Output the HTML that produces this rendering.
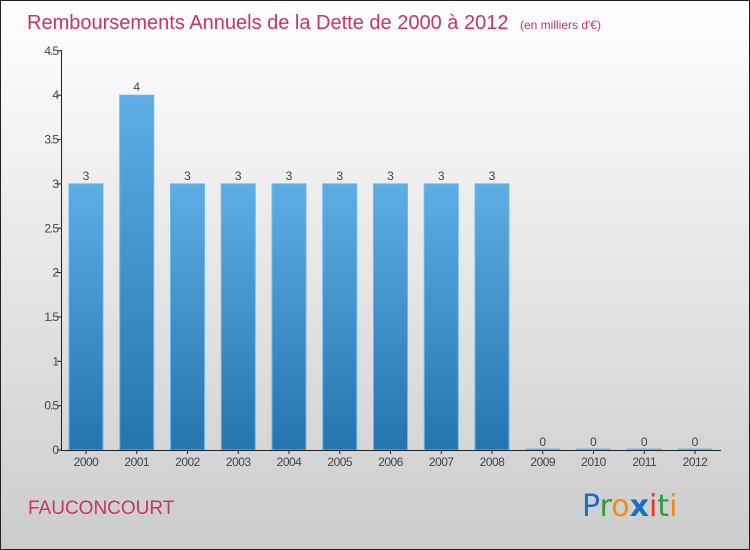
<!DOCTYPE html>
<html><head><meta charset="utf-8"><style>
body{margin:0}
svg{display:block;font-family:"Liberation Sans",sans-serif}
</style></head><body>
<svg id="c" width="750" height="550">
<defs>
<linearGradient id="bg" x1="0" y1="0" x2="0" y2="1"><stop offset="0" stop-color="#ffffff"/><stop offset="1" stop-color="#cccccc"/></linearGradient>
<linearGradient id="bar" x1="0" y1="0" x2="0" y2="1"><stop offset="0" stop-color="#5dade6"/><stop offset="1" stop-color="#2474b0"/></linearGradient>
</defs>
<rect x="0.5" y="0.5" width="749" height="549" fill="url(#bg)" stroke="#222"/>
<text x="27" y="29" font-size="20" fill="#c8336b">Remboursements Annuels de la Dette de 2000 à 2012 <tspan font-size="12" dx="6">(en milliers d'€)</tspan></text>
<text x="28" y="514" font-size="19" fill="#c8336b">FAUCONCOURT</text>
<text x="582" y="516" font-size="30" font-family="'DejaVu Sans',sans-serif"><tspan fill="#1a6fc4">P</tspan><tspan fill="#2e9a3a">r</tspan><tspan fill="#f08a1c">o</tspan><tspan fill="#1a6fc4" font-weight="bold">x</tspan><tspan fill="#e83a1a">i</tspan><tspan fill="#2e9a3a">t</tspan><tspan fill="#f08a1c">i</tspan></text>
<g id="plot"></g>
</svg>
<script>
const categories=["2000","2001","2002","2003","2004","2005","2006","2007","2008","2009","2010","2011","2012"];
const values=[3,4,3,3,3,3,3,3,3,0,0,0,0];
const yTicks=[0,0.5,1,1.5,2,2.5,3,3.5,4,4.5];
const NS="http://www.w3.org/2000/svg";
const g=document.getElementById("plot");
const y=v=>450-v*88.7;
const x=i=>86+i*50.75;
function mk(t,a,txt){const e=document.createElementNS(NS,t);for(const k in a)e.setAttribute(k,a[k]);if(txt!=null)e.textContent=txt;g.appendChild(e);return e;}
yTicks.forEach(t=>{
  const l=mk("line",{x1:57,x2:62,y1:y(t),y2:y(t),stroke:"#222"});
  
  
  const tx=mk("text",{x:58,y:y(t)+4,"text-anchor":"end","font-size":12,fill:"#444","letter-spacing":"-1"},String(t));
  
  
});
values.forEach((v,i)=>{
  const h=Math.max(450-y(v),1);
  const r=mk("rect",{x:x(i)-17,y:450-h,width:34,height:h,fill:"url(#bar)",stroke:"#6bb8ec","stroke-width":1});
  
  
  const lb=mk("text",{x:x(i),y:y(v)-4,"text-anchor":"middle","font-size":12,fill:"#444"},String(v));
  
  
  const tk=mk("line",{x1:x(i),x2:x(i),y1:450,y2:454,stroke:"#222"});
  
  
  const cl=mk("text",{x:x(i),y:466,"text-anchor":"middle","font-size":12,fill:"#444","letter-spacing":"-0.5"},categories[i]);
  
  
});
const ya=mk("line",{x1:61.5,x2:61.5,y1:50,y2:450,stroke:"#222"});


const xa=mk("line",{x1:61,x2:721,y1:450.5,y2:450.5,stroke:"#222"});


</script>
</body></html>
